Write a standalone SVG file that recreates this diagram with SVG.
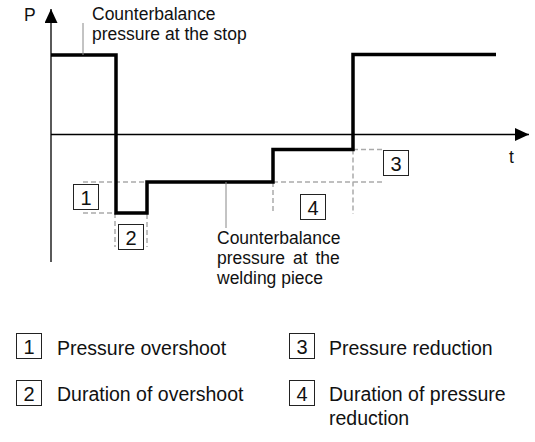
<svg xmlns="http://www.w3.org/2000/svg" width="535" height="442" viewBox="0 0 535 442">
<defs>
<style>
text{font-family:"Liberation Sans",Arial,sans-serif;fill:#111}
.lbl{font-size:17.5px}
.leg{font-size:19.5px}
.num{font-size:20px;text-anchor:middle}
.box{fill:#fff;stroke:#222;stroke-width:1}
.dash{fill:none;stroke:#aaa;stroke-width:1.5;stroke-dasharray:5 3}
.curve{fill:none;stroke:#000;stroke-width:3.5;stroke-linejoin:miter}
.axis{fill:none;stroke:#000;stroke-width:1.3}
.lead{fill:none;stroke:#888;stroke-width:1}
</style>
<marker id="arr" viewBox="0 0 14 13" refX="14" refY="6.5" markerWidth="14" markerHeight="13" markerUnits="userSpaceOnUse" orient="auto">
<path d="M0,0 L14,6.5 L0,13 z" fill="#000"/>
</marker>
</defs>
<g id="connectors">
<path class="dash" d="M83,182 H147 M83,213 H115 M115,213 V247 M147,182 V247"/>
<path class="dash" d="M273,182 H385 M353,149.5 H385 M273,182 V214 M353,149.5 V214"/>
<path class="axis" d="M51,262 V9" marker-end="url(#arr)"/>
<path class="axis" d="M51,134.5 H529" marker-end="url(#arr)"/>
<path class="curve" d="M51,55 H116 V213 H147 V182 H273 V149.5 H353 V54.5 H496"/>
<path class="lead" d="M83,23 V55 M226,182 V228"/>
</g>
<g id="axis-labels">
<text x="24" y="21" class="lbl">P</text>
<text x="509" y="163" class="lbl">t</text>
</g>
<g id="label-stop">
<text x="92" y="20" class="lbl">Counterbalance</text>
<text x="92" y="40" class="lbl">pressure at the stop</text>
</g>
<g id="label-welding">
<text x="217" y="244" class="lbl">Counterbalance</text>
<text x="217" y="264" class="lbl" word-spacing="3">pressure at the</text>
<text x="217" y="284" class="lbl">welding piece</text>
</g>
<g id="marker-1"><rect class="box" x="73.5" y="184.5" width="25" height="25"/><text x="86" y="204.5" class="num">1</text></g>
<g id="marker-2"><rect class="box" x="118.5" y="224.5" width="25" height="25"/><text x="131" y="244.5" class="num">2</text></g>
<g id="marker-3"><rect class="box" x="383.5" y="150.5" width="25" height="25"/><text x="396" y="170.5" class="num">3</text></g>
<g id="marker-4"><rect class="box" x="300.5" y="194.5" width="25" height="25"/><text x="313" y="214.5" class="num">4</text></g>
<g id="legend-1"><rect class="box" x="16.5" y="333.5" width="25" height="25"/><text x="29" y="353.5" class="num">1</text><text x="57" y="355" class="leg">Pressure overshoot</text></g>
<g id="legend-2"><rect class="box" x="16.5" y="380.5" width="25" height="25"/><text x="29" y="400.5" class="num">2</text><text x="57" y="401" class="leg">Duration of overshoot</text></g>
<g id="legend-3"><rect class="box" x="289.5" y="333.5" width="25" height="25"/><text x="302" y="353.5" class="num">3</text><text x="329" y="355" class="leg">Pressure reduction</text></g>
<g id="legend-4"><rect class="box" x="289.5" y="380.5" width="25" height="25"/><text x="302" y="400.5" class="num">4</text><text x="329" y="401" class="leg">Duration of pressure</text><text x="329" y="425" class="leg">reduction</text></g>
</svg>
